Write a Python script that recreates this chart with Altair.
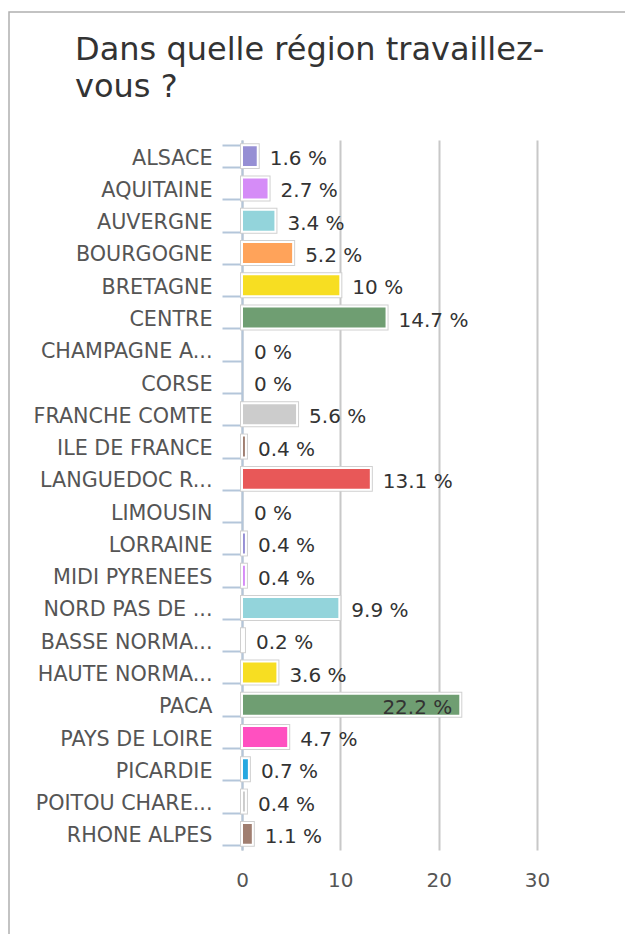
import altair as alt
import pandas as pd

categories = ["ALSACE", "AQUITAINE", "AUVERGNE", "BOURGOGNE", "BRETAGNE", "CENTRE",
              "CHAMPAGNE A...", "CORSE", "FRANCHE COMTE", "ILE DE FRANCE",
              "LANGUEDOC R...", "LIMOUSIN", "LORRAINE", "MIDI PYRENEES",
              "NORD PAS DE ...", "BASSE NORMA...", "HAUTE NORMA...", "PACA",
              "PAYS DE LOIRE", "PICARDIE", "POITOU CHARE...", "RHONE ALPES"]
values = [1.6, 2.7, 3.4, 5.2, 10, 14.7, 0, 0, 5.6, 0.4, 13.1, 0, 0.4, 0.4,
          9.9, 0.2, 3.6, 22.2, 4.7, 0.7, 0.4, 1.1]
colors = ["#968fd4", "#d58cf7", "#93d4db", "#ffa35a", "#f7de22", "#6f9e72",
          "#ff50c0", "#27a8e0", "#cccccc", "#a07e70", "#e85858", "#9a8fd6",
          "#968fd4", "#d58cf7", "#93d4db", "#ffa35a", "#f7de22", "#6f9e72",
          "#ff50c0", "#27a8e0", "#cccccc", "#a07e70"]
x_ticks = [0, 10, 20, 30]
title_lines = ["Dans quelle région travaillez-", "vous ?"]

df = pd.DataFrame({"cat": categories, "value": values})

base = alt.Chart(df).transform_calculate(label="datum.value + ' %'")

y_enc = alt.Y("cat:N", sort=categories,
              scale=alt.Scale(paddingInner=0.32, paddingOuter=0.16),
              axis=alt.Axis(title=None, tickBand="extent", tickSize=20,
                            tickColor="#b4c6da", tickWidth=2,
                            domainColor="#b4c6da", domainWidth=2,
                            labelPadding=10, labelFontSize=20.7, labelColor="#555555",
                            labelOffset=2, labelLimit=300))
x_enc = alt.X("value:Q", scale=alt.Scale(domain=[0, 30]),
              axis=alt.Axis(title=None, values=x_ticks, grid=True, domain=False,
                            ticks=False, labelFontSize=20, labelColor="#555555",
                            labelFlush=False, labelPadding=20,
                            gridColor="#c8c8c8", gridWidth=2))
color_enc = alt.Color("cat:N", scale=alt.Scale(domain=categories, range=colors), legend=None)

frame = alt.Chart(alt.Data(values=[{}])).mark_rect(
    fillOpacity=0, stroke="#b0b0b0", strokeWidth=1.5
).encode(x=alt.value(-233), x2=alt.value(420), y=alt.value(-128), y2=alt.value(900))

bars_outline = base.transform_filter("datum.value > 0").mark_bar(
    fill="white", stroke="#d0d0d0", strokeWidth=4
).encode(x=x_enc, y=y_enc)

bars = base.transform_filter("datum.value > 0").mark_bar(
    stroke="white", strokeWidth=2
).encode(x=x_enc, y=y_enc, color=color_enc)

labels_out = base.transform_filter("datum.value < 20").mark_text(
    align="left", dx=12, dy=3, fontSize=20, color="#333333", baseline="middle"
).encode(x=x_enc, y=y_enc, text="label:N")

labels_in = base.transform_filter("datum.value >= 20").mark_text(
    align="right", dx=-8, dy=3, fontSize=20, color="#333333", baseline="middle"
).encode(x=x_enc, y=y_enc, text="label:N")

chart = alt.layer(frame, bars_outline, bars, labels_out, labels_in).properties(
    width=295, height=710,
    autosize=alt.AutoSizeParams(type="none"),
    padding={"left": 234, "top": 132, "right": 88, "bottom": 84},
    title=alt.TitleParams(text=title_lines, anchor="start", frame="group",
                          fontSize=32, fontWeight="normal", color="#333333",
                          lineHeight=37, offset=36, dx=-167, dy=129),
).configure(font="DejaVu Sans").configure_view(stroke=None)

chart.save("out.html", embed_options={"renderer": "svg", "actions": False})
